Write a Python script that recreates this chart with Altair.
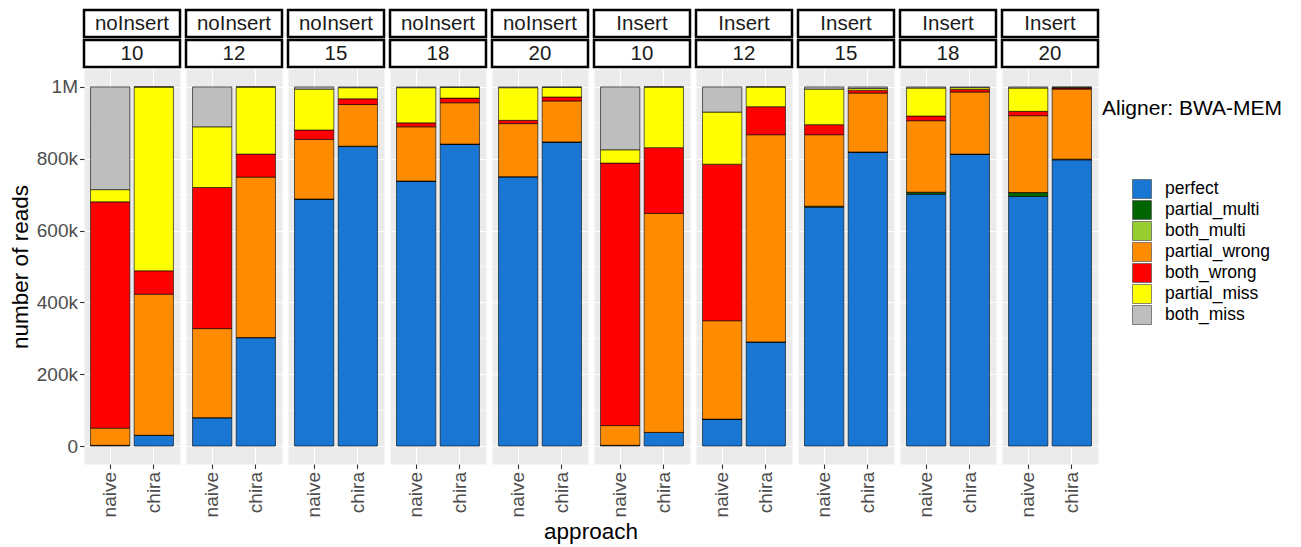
import altair as alt
import pandas as pd

groups = ["noInsert"] * 5 + ["Insert"] * 5
lengths = ["10", "12", "15", "18", "20"] * 2
approaches = ["naive", "chira"]
categories = ["perfect", "partial_multi", "both_multi", "partial_wrong",
              "both_wrong", "partial_miss", "both_miss"]
colors = ["#1976D2", "#006400", "#9ACD32", "#FF8C00", "#FF0000", "#FFFF00", "#BEBEBE"]

# values in thousands of reads, order: panel1 naive, panel1 chira, panel2 naive, ...
perfect = [2, 30, 79, 302, 687, 834, 738, 840, 750, 846,
           2, 38, 75, 290, 665, 818, 701, 812, 695, 797]
partial_multi = [0, 0, 0, 0, 1, 1, 0, 1, 0, 1,
                 0, 0, 0, 0, 3, 1, 6, 1, 11, 2]
both_multi = [0, 0, 0, 0, 0, 0, 0, 0, 0, 0,
              0, 0, 0, 0, 0, 0, 0, 0, 0, 0]
partial_wrong = [48, 393, 248, 447, 166, 116, 151, 115, 148, 114,
                 55, 610, 274, 577, 199, 164, 199, 173, 214, 195]
both_wrong = [630, 65, 393, 64, 26, 16, 11, 13, 9, 11,
              731, 183, 436, 78, 28, 8, 13, 7, 12, 3]
partial_miss = [34, 512, 169, 187, 114, 31, 98, 30, 91, 27,
                37, 169, 145, 55, 99, 5, 78, 5, 65, 2]
both_miss = [286, 0, 111, 0, 6, 2, 2, 1, 2, 1,
             175, 0, 70, 0, 6, 4, 3, 2, 3, 1]

major_ticks = [0, 200000, 400000, 600000, 800000, 1000000]
minor_ticks = [100000, 300000, 500000, 700000, 900000]

series = [perfect, partial_multi, both_multi, partial_wrong, both_wrong, partial_miss, both_miss]
rows = []
for p in range(10):
    for a in range(2):
        idx = p * 2 + a
        for ci, (cat, vals) in enumerate(zip(categories, series)):
            rows.append(dict(panel=p, group=groups[p], length=lengths[p],
                             approach=approaches[a], category=cat, rank=ci,
                             reads=vals[idx] * 1000))
df = pd.DataFrame(rows)

W, H = 96, 395
FONT = "Liberation Sans"
yscale = alt.Scale(domain=[-50000, 1050000], nice=False, zero=False)
xscale = alt.Scale(domain=approaches, paddingInner=0.1, paddingOuter=0.15)
color_enc = alt.Color(
    "category:N",
    scale=alt.Scale(domain=categories, range=colors),
    legend=alt.Legend(title=None, orient="none", legendX=1048, legendY=110,
                      symbolType="square", symbolSize=361, symbolStrokeColor="#555555",
                      symbolStrokeWidth=0.7, labelFontSize=17.5, labelColor="black",
                      labelFont=FONT, labelOffset=13, rowPadding=-6, padding=0,
                      labelLimit=200),
)
label_expr = ("datum.value == 0 ? '0' : datum.value >= 1000000 ? "
              "(datum.value / 1000000) + 'M' : (datum.value / 1000) + 'k'")


def panel(p):
    d = df[df.panel == p]
    first = p == 0
    yaxis = alt.Axis(values=major_ticks, labelExpr=label_expr, grid=True, gridColor="white",
                     gridWidth=1.1, domain=False,
                     title="number of reads" if first else None,
                     labels=first, ticks=first, tickColor="#333333", tickSize=4.5,
                     tickWidth=1.1, labelColor="#4D4D4D", labelFontSize=19,
                     labelPadding=2, titleFontSize=22.5, titleColor="black",
                     titleFontWeight="normal", titlePadding=4)
    xaxis = alt.Axis(title=None, labelAngle=270, grid=True, gridColor="white",
                     gridWidth=1.1, bandPosition=0.5, domain=False,
                     tickColor="#333333", tickSize=4.5, tickWidth=1.1,
                     labelColor="#4D4D4D", labelFontSize=19, labelPadding=3)
    minor = alt.Chart(pd.DataFrame({"v": minor_ticks})).mark_rule(
        color="white", strokeWidth=0.55).encode(
        y=alt.Y("v:Q", scale=yscale, axis=yaxis,
                title="number of reads" if first else None))
    bars = alt.Chart(d).mark_bar(stroke="black", strokeWidth=0.6).encode(
        x=alt.X("approach:N", sort=approaches, scale=xscale, axis=xaxis),
        y=alt.Y("reads:Q", stack="zero", scale=yscale, axis=yaxis,
                title="number of reads" if first else None),
        color=color_enc,
        order=alt.Order("rank:Q", sort="ascending"),
    )
    strip_df = pd.DataFrame({"g": [groups[p]], "l": [lengths[p]]})
    r1 = alt.Chart(strip_df).mark_rect(fill="white", stroke="black", strokeWidth=2.5).encode(
        x=alt.value(0), x2=alt.value(W), y=alt.value(-59), y2=alt.value(-32))
    r2 = alt.Chart(strip_df).mark_rect(fill="white", stroke="black", strokeWidth=2.5).encode(
        x=alt.value(0), x2=alt.value(W), y=alt.value(-29), y2=alt.value(-2))
    t1 = alt.Chart(strip_df).mark_text(fontSize=20.5, font=FONT, color="#1A1A1A",
                                       baseline="middle").encode(
        x=alt.value(W / 2), y=alt.value(-45), text="g:N")
    t2 = alt.Chart(strip_df).mark_text(fontSize=20.5, font=FONT, color="#1A1A1A",
                                       baseline="middle").encode(
        x=alt.value(W / 2), y=alt.value(-15), text="l:N")
    layers = [minor, bars, r1, r2, t1, t2]
    if p == 4:
        layers.append(alt.Chart(pd.DataFrame({"t": ["approach"]})).mark_text(
            fontSize=22.5, font=FONT, color="black", baseline="middle").encode(
            x=alt.value(W + 3), y=alt.value(H + 68), text="t:N"))
    if p == 9:
        layers.append(alt.Chart(pd.DataFrame({"t": ["Aligner: BWA-MEM"]})).mark_text(
            fontSize=21, font=FONT, color="black", baseline="middle", align="left").encode(
            x=alt.value(W + 4), y=alt.value(40), text="t:N"))
    return alt.layer(*layers).properties(width=W, height=H)


chart = alt.hconcat(*[panel(p) for p in range(10)], spacing=6, bounds="flush").resolve_scale(
    color="shared").properties(padding=0).configure(font=FONT).configure_view(
    fill="#EBEBEB", stroke="transparent")

chart.save("out.html", embed_options={"renderer": "svg", "actions": False})
